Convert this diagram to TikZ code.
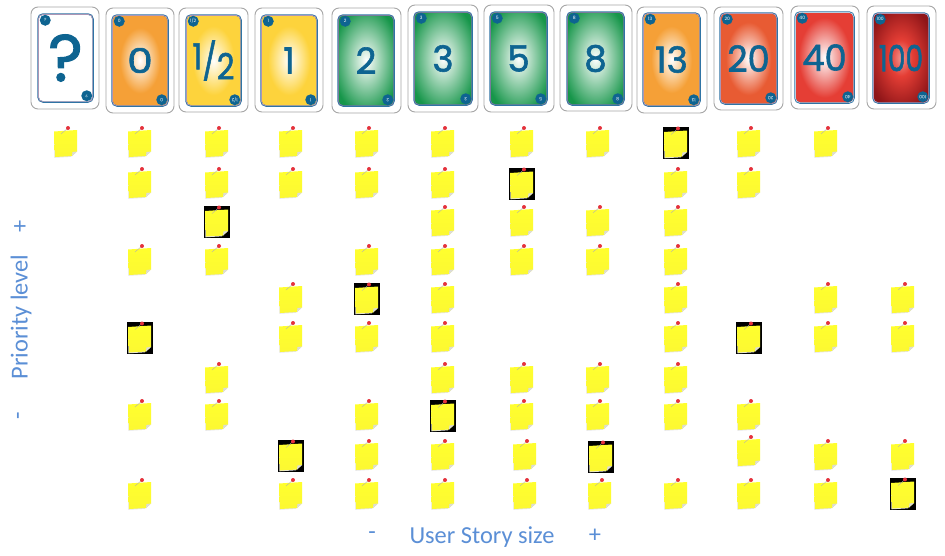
\documentclass[tikz,border=0pt]{standalone}
\usepackage{fontspec}
\setmainfont{Carlito}
\newfontfamily\cardfont{Poppins}
\newfontfamily\cardbig[FakeBold=1.6]{Poppins}
\usetikzlibrary{positioning, calc}
\usepackage{xcolor}
\definecolor{cardblue}{HTML}{0E6491}
\definecolor{cardgrey}{HTML}{A6A6A6}
\definecolor{axisblue}{HTML}{5B8FD6}
\definecolor{cardorange}{HTML}{F5A037}
\definecolor{cardyellow}{HTML}{FDD33C}
\definecolor{cardgreen}{HTML}{16964A}
\definecolor{cardcoral}{HTML}{E85B33}
\definecolor{cardred}{HTML}{E53E35}
\definecolor{carddark}{HTML}{8E1518}
\definecolor{cardline}{HTML}{2F74A5}
\definecolor{cardmauve}{HTML}{A07F9A}
\definecolor{cardpink}{HTML}{F0A8BE}
\definecolor{noteyellow}{HTML}{FFFF2E}
\definecolor{notedark}{HTML}{FCF832}
\definecolor{pinred}{HTML}{E5323C}
\pgfdeclareradialshading{whiteglow}{\pgfpoint{0bp}{0bp}}{color(0bp)=(white);color(50bp)=(white)}
\pgfdeclareradialshading{orangeglow}{\pgfpoint{0bp}{0bp}}{color(0bp)=(white);color(18bp)=(cardorange);color(50bp)=(cardorange)}
\pgfdeclareradialshading{yellowglow}{\pgfpoint{0bp}{0bp}}{color(0bp)=(white);color(19bp)=(cardyellow);color(50bp)=(cardyellow)}
\pgfdeclareradialshading{greenglow}{\pgfpoint{0bp}{0bp}}{color(0bp)=(white);color(30bp)=(cardgreen);color(50bp)=(cardgreen)}
\pgfdeclareradialshading{coralglow}{\pgfpoint{0bp}{0bp}}{color(0bp)=(white);color(20bp)=(cardcoral);color(50bp)=(cardcoral)}
\pgfdeclareradialshading{redglow}{\pgfpoint{0bp}{0bp}}{color(0bp)=(white);color(22bp)=(cardred);color(50bp)=(cardred)}
\pgfdeclareradialshading{darkglow}{\pgfpoint{0bp}{0bp}}{color(0bp)=(cardred!55!white);color(10bp)=(cardred);color(30bp)=(carddark);color(50bp)=(carddark)}
\tikzset{
  cardbox/.style={draw=cardgrey, fill=white, line width=0.9pt, rounded corners=7pt, inner sep=0pt},
  cardface/.style={draw=cardline, line width=1.5pt, rounded corners=5pt, inner sep=0pt, text=cardblue},
  badge/.style={circle, fill=cardblue, text=white, minimum size=11pt, inner sep=0pt, font=\cardfont\fontsize{4.5}{5}\selectfont},
  axislabel/.style={text=axisblue, font=\fontsize{24.4}{25}\selectfont, inner sep=0pt},
  pics/sticky/.style={code={
    \fill[black!10] (-12,-10) -- (-11.5,14.8) -- (5,13.8) -- (5,12) -- cycle;
    \shade[top color=noteyellow, bottom color=notedark] (-12,-11.5) -- (11,-13) -- (11,8.5) -- (6,13) -- (-11,14) -- cycle;
    \fill[black!14] (11,8.5) -- (6.5,9) -- (6,13) -- cycle;
    \draw[black!30, line width=0.4pt] (-5,-9) -- (2,-15);
    \fill[pinred] (2,-15) circle (2);
  }},
  pics/stickyblack/.style={code={
    \fill[black] (-13,-16) rectangle (13,16);
    \pic at (0,0.5) {sticky};
  }}
}
\begin{document}
\begin{tikzpicture}[x=1pt, y=-1pt]
  \path[fill=white, use as bounding box] (0,0) rectangle (945,555);
  % cards
  \foreach \cid/\ctext/\csize/\cxs/\csmall/\ox/\oy/\ow/\oh/\fx/\fy/\fw/\fh/\cglow/\cedge in {
    q/?/66/1/?/65/58/68/102/65.5/58/55/88/whiteglow/cardpink,
    zero/0/34/1.2/0/140/60.5/68/105/140/60.5/56/91/orangeglow/cardpink,
    half/{\raisebox{5pt}{1}/\raisebox{-5pt}{2}}/36/0.85/{1/2}/213.5/60/69/104/213.5/60.5/55/91/yellowglow/cardpink,
    one/1/36/1/1/289/60/68/104/289/60.5/56/91/yellowglow/cardpink,
    two/2/36/1/2/366.5/60.5/69/105/366/60.5/56/91/greenglow/cardmauve,
    three/3/36/1/3/443/58.5/70/107/443/58.5/58/93/greenglow/cardmauve,
    five/5/36/1/5/519/58.5/70/107/518.5/58.5/57/93/greenglow/cardmauve,
    eight/8/36/1/8/596/58/72/106/595.5/58.5/57/93/greenglow/cardmauve,
    thirteen/13/36/1/13/672/60/70/106/671.5/59.5/57/93/orangeglow/cardpink,
    twenty/20/36/0.98/20/748.5/58.5/69/103/748.5/58.5/57/91/coralglow/cardpink,
    forty/40/36/0.98/40/825/57.5/68/103/824.5/57.5/59/91/redglow/white,
    hundred/100/36/0.78/100/901.5/57.5/69/103/901/58/56/90/darkglow/cardpink} {
    \node[cardbox, minimum width=\ow pt, minimum height=\oh pt] (card\cid) at (\ox,\oy) {};
    \node[cardface, shading=\cglow, minimum width=\fw pt, minimum height=\fh pt] (face\cid) at (\fx,\fy)
      {\cardbig\fontsize{\csize}{\csize}\selectfont\scalebox{\cxs}[1]{\ctext}};
    \draw[\cedge, line width=0.4pt, rounded corners=4pt]
      ($(face\cid.north west)+(1.3,1.3)$) rectangle ($(face\cid.south east)+(-1.3,-1.3)$);
    \node[badge] (top\cid) at ($(face\cid.north west)+(8,7)$) {\csmall};
    \node[badge, rotate=180] (bottom\cid) at ($(face\cid.south east)+(-7,-7)$) {\csmall};
  }
  % notes, row by row
  \foreach \rowy/\cols in {
    143/{66,140,217,291,367,443,522,598,749,826},
    184/{140,217,291,367,443,676,749},
    222/{443,522,598,676},
    261/{140,217,367,443,522,598,676},
    299/{291,443,676,826,903},
    338/{291,367,443,676,826,903},
    379/{217,443,522,598,676},
    416/{140,217,367,522,598,676,749},
    456/{367,443,525,903,826},
    495/{140,291,367,443,525,600,676,749,826}} {
    \foreach \colx in \cols {
      \pic at (\colx,\rowy) {sticky};
    }
  }
  \pic at (749,452) {sticky};
  % highlighted notes
  \foreach \colx/\rowy in {676/143, 522/184, 217/222, 367/299, 140/338, 749/338, 443/416, 291/456, 601/457, 903/494} {
    \pic at (\colx,\rowy) {stickyblack};
  }
  % axes
  \node[axislabel, rotate=90] (ylabel) at (21,317) {Priority level};
  \node[axislabel, rotate=90] (yplus) at (21,226) {+};
  \node[axislabel, rotate=90] (yminus) at (21,416) {-};
  \node[axislabel] (xlabel) at (482,537) {User Story size};
  \node[axislabel] (xminus) at (372,536) {-};
  \node[axislabel] (xplus) at (595,536) {+};
\end{tikzpicture}
\end{document}
